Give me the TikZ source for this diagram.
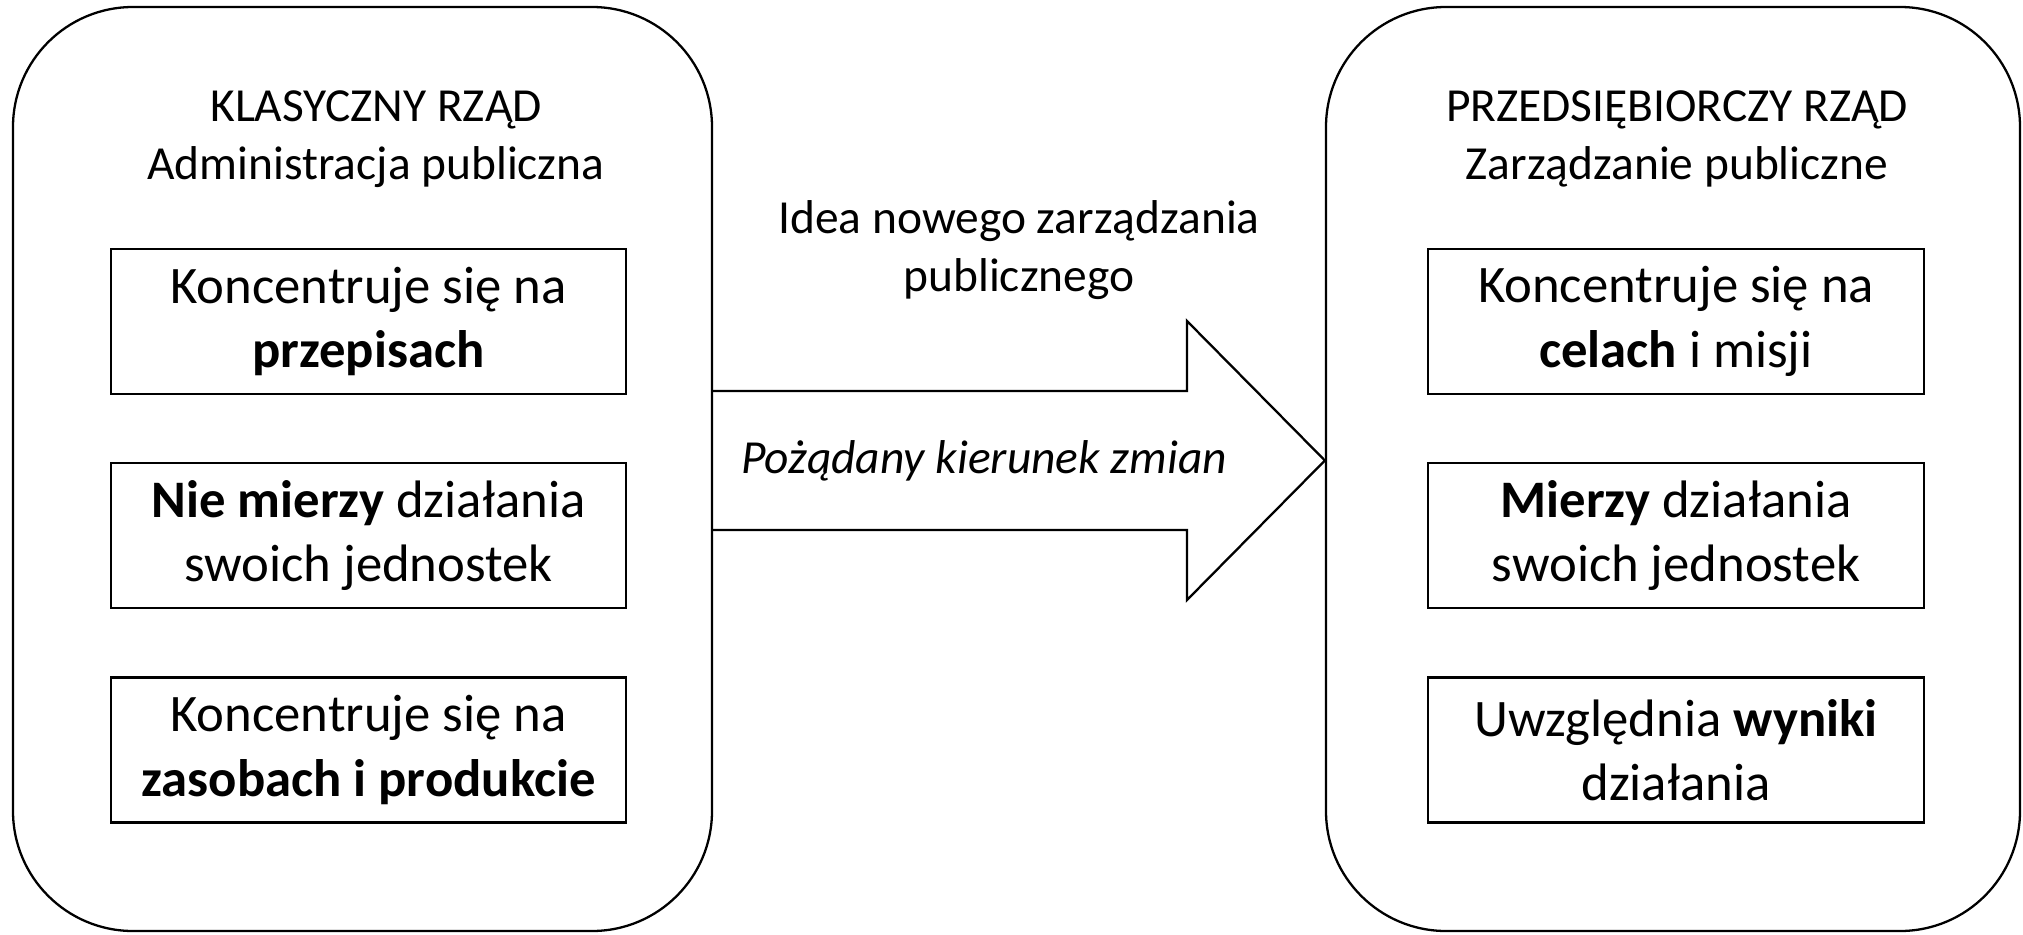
\documentclass[tikz,border=0pt]{standalone}
\usepackage{fontspec}
\setmainfont{Carlito}
\usepackage{tikz}
\usetikzlibrary{positioning,calc}

\begin{document}
\begin{tikzpicture}[
  panel/.style={draw, line width=0.65pt, rounded corners=1.2cm, minimum width=6.99cm, minimum height=9.24cm, inner sep=0pt},
  item/.style={draw, line width=0.65pt, align=center, minimum width=5.15cm, minimum height=1.45cm, inner sep=0pt, font=\fontsize{15}{18.3}\selectfont},
  head/.style={align=center, font=\fontsize{13.5}{16.5}\selectfont}
]
\useasboundingbox (0,0) rectangle (20.23,9.34);

% the two panels
\node[panel] (klas) at (3.625,4.65) {};
\node[panel, minimum width=6.94cm] (przed) at (16.73,4.65) {};

\node[head] (klastyt) at (3.76,7.95) {KLASYCZNY RZĄD\\Administracja publiczna};
\node[head] (przedtyt) at (16.77,7.95) {PRZEDSIĘBIORCZY RZĄD\\Zarządzanie publiczne};

% left column
\node[item] (k1) at (3.685,6.125) {Koncentruje się na\\\textbf{przepisach}};
\node[item, below=0.67cm of k1] (k2) {\textbf{Nie mierzy} działania\\swoich jednostek};
\node[item, below=0.67cm of k2] (k3) {Koncentruje się na\\\textbf{zasobach i produkcie}};

% right column
\node[item, minimum width=4.96cm] (p1) at (16.76,6.125) {Koncentruje się na\\\textbf{celach} i misji};
\node[item, minimum width=4.96cm, below=0.67cm of p1] (p2) {\textbf{Mierzy} działania\\swoich jednostek};
\node[item, minimum width=4.96cm, below=0.67cm of p2] (p3) {Uwzględnia \textbf{wyniki}\\działania};

% the big arrow
\coordinate (tip) at (przed.west |- 0,4.735);
\draw[line width=0.65pt] (klas.east |- 0,5.43) -- (11.87,5.43) -- (11.87,6.13) -- (tip)
  -- (11.87,3.34) -- (11.87,4.04) -- (klas.east |- 0,4.04);

\node[head] (idea) at (10.19,6.84) {Idea nowego zarządzania\\publicznego};
\node[head, font={\fontsize{13.5}{16.5}\selectfont\itshape}] (kierunek) at (9.84,4.73) {Pożądany kierunek zmian};
\end{tikzpicture}
\end{document}
